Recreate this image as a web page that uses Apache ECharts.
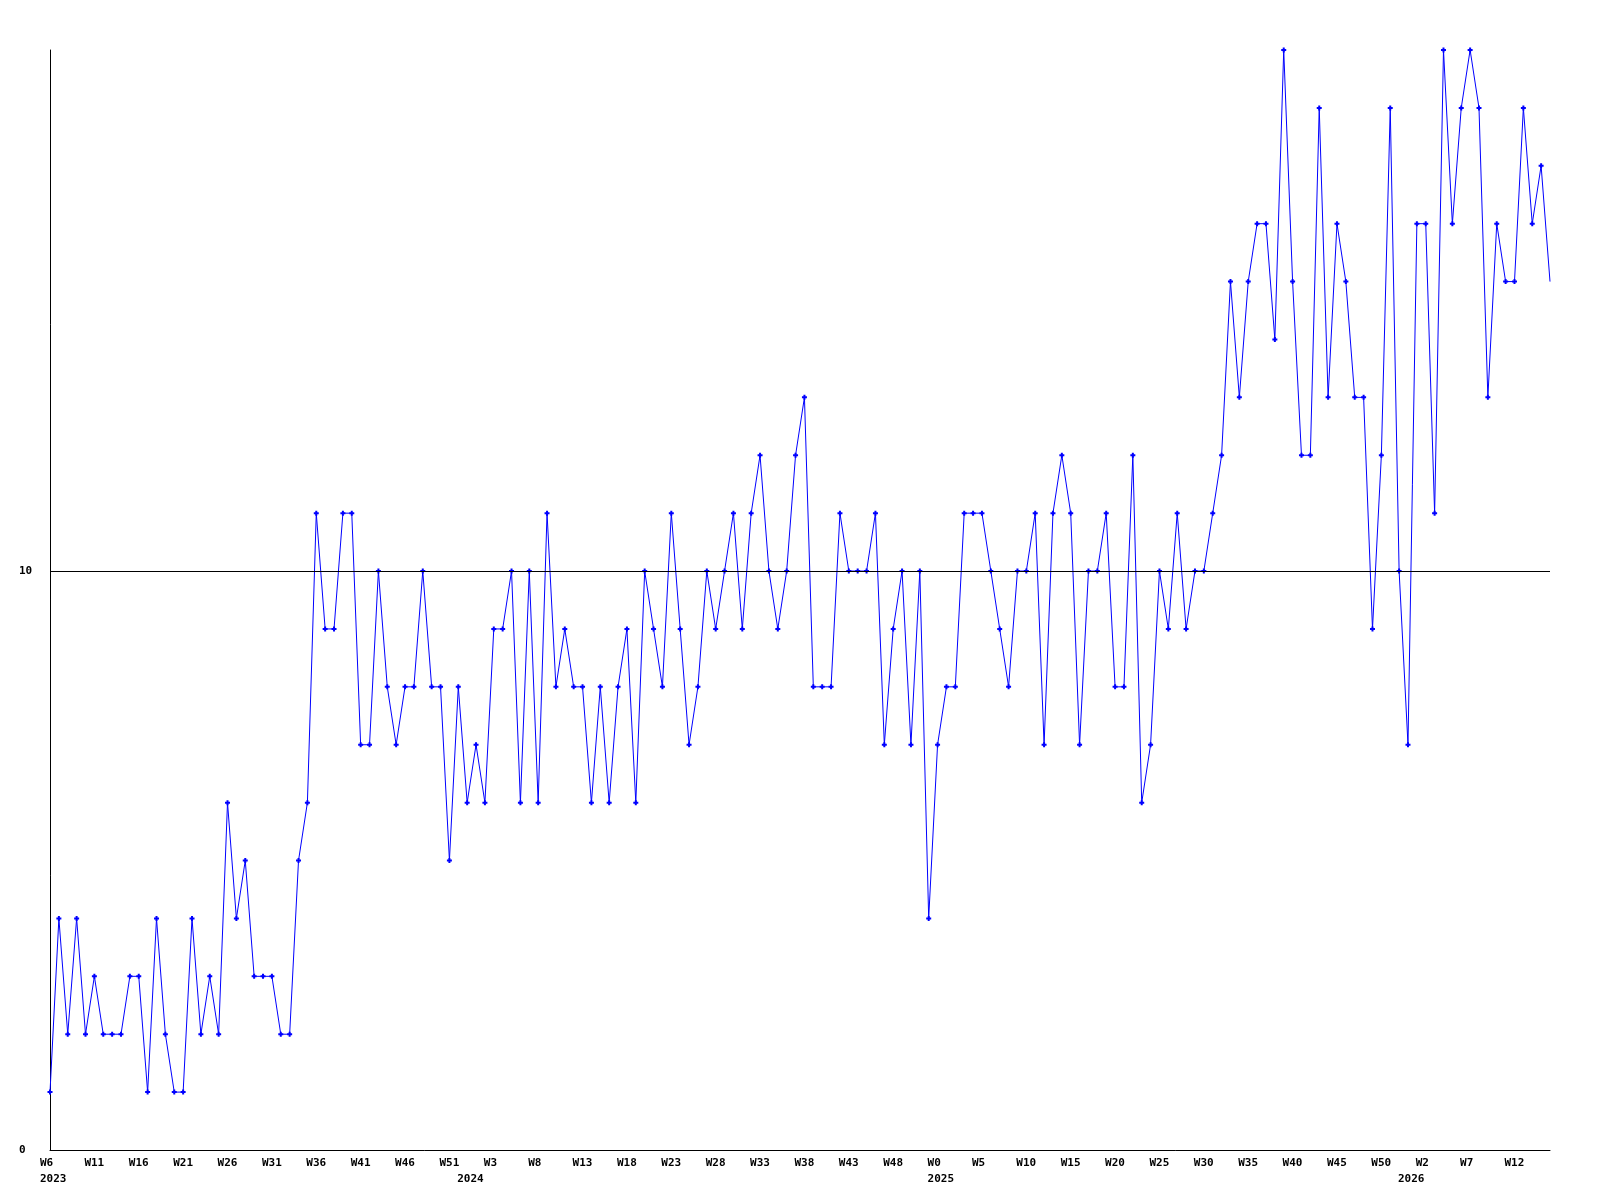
<!DOCTYPE html>
<html>
<head>
<meta charset="utf-8">
<script src="https://cdn.jsdelivr.net/npm/echarts@6/dist/echarts.min.js"></script>
<style>
html,body{margin:0;padding:0;background:#fff;}
#chart{width:1600px;height:1200px;}
</style>
</head>
<body>
<div id="chart"></div>
<script>
// Year / week spans of the category axis: [year, firstWeek, lastWeek]
const weekSpans = [[2023, 6, 52], [2024, 0, 52], [2025, 0, 52], [2026, 0, 16]];

// Weekly values (one per week, in order)
const values = [
  1,4,2,4,2,3,2,2,2,3,
  3,1,4,2,1,1,4,2,3,2,
  6,4,5,3,3,3,2,2,5,6,
  11,9,9,11,11,7,7,10,8,7,
  8,8,10,8,8,5,8,6,7,6,
  9,9,10,6,10,6,11,8,9,8,
  8,6,8,6,8,9,6,10,9,8,
  11,9,7,8,10,9,10,11,9,11,
  12,10,9,10,12,13,8,8,8,11,
  10,10,10,11,7,9,10,7,10,4,
  7,8,8,11,11,11,10,9,8,10,
  10,11,7,11,12,11,7,10,10,11,
  8,8,12,6,7,10,9,11,9,10,
  10,11,12,15,13,15,16,16,14,19,
  15,12,12,18,13,16,15,13,13,9,
  12,18,10,7,16,16,11,19,16,18,
  19,18,13,16,15,15,18,16,17,15
];

// Y tick labels shown
const yTickLabels = [0, 10];
const referenceLine = 10;

const categories = [];
const yearStart = {};
weekSpans.forEach(function (s) {
  yearStart[categories.length] = s[0];
  for (let w = s[1]; w <= s[2]; w++) categories.push(s[0] + '-W' + w);
});

const labelFont = {
  fontFamily: 'DejaVu Sans Mono',
  fontWeight: 'bold',
  fontSize: 11,
  color: '#000'
};

// last point is drawn without a marker in the reference
const seriesData = values.map(function (v, i) {
  return i === values.length - 1 ? {value: v, symbol: 'none'} : v;
});

const chart = echarts.init(document.getElementById('chart'), null, {renderer: 'canvas'});
chart.setOption({
  animation: false,
  backgroundColor: '#fff',
  grid: {left: 50, right: 50, top: 50, bottom: 50, containLabel: false},
  xAxis: [{
    type: 'category',
    data: categories,
    boundaryGap: false,
    axisLine: {show: true, onZero: false, lineStyle: {color: '#000', width: 1}},
    axisTick: {show: false},
    splitLine: {show: false},
    axisLabel: Object.assign({
      interval: function (i) { return i % 5 === 0; },
      formatter: function (v) { return v.split('-')[1]; },
      align: 'left',
      padding: [0, 0, 0, -10],
      margin: 8
    }, labelFont)
  }, {
    type: 'category',
    data: categories,
    boundaryGap: false,
    position: 'bottom',
    offset: 16,
    axisLine: {show: false},
    axisTick: {show: false},
    splitLine: {show: false},
    axisLabel: Object.assign({
      interval: function (i) { return yearStart[i] !== undefined; },
      formatter: function (v) { return v.split('-')[0]; },
      align: 'left',
      padding: [0, 0, 0, -10],
      margin: 8
    }, labelFont)
  }],
  yAxis: {
    type: 'value',
    min: 0,
    max: 19,
    interval: 10,
    axisLine: {show: true, lineStyle: {color: '#000', width: 1}},
    axisTick: {show: false},
    splitLine: {show: false},
    axisLabel: Object.assign({
      showMaxLabel: false,
      formatter: function (v) { return yTickLabels.indexOf(v) >= 0 ? String(v) : ''; },
      align: 'left',
      margin: 31
    }, labelFont)
  },
  series: [{
    type: 'line',
    data: seriesData,
    xAxisIndex: 0,
    symbol: 'path://M1.5,0H3.5V1.5H5V3.5H3.5V5H1.5V3.5H0V1.5H1.5Z',
    symbolSize: 5,
    showAllSymbol: true,
    lineStyle: {color: '#0000ff', width: 1},
    itemStyle: {color: '#0000ff'},
    silent: true,
    markLine: {
      silent: true,
      symbol: 'none',
      label: {show: false},
      lineStyle: {color: '#000', type: 'solid', width: 1},
      data: [{yAxis: referenceLine}]
    }
  }]
});
</script>
</body>
</html>
